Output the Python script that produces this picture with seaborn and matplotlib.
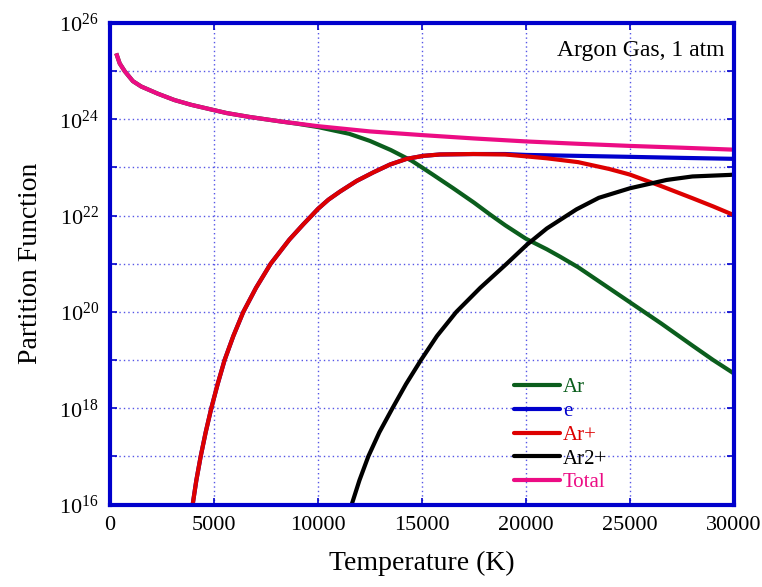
import numpy as np
import pandas as pd
import matplotlib
matplotlib.use("Agg")
import matplotlib.pyplot as plt
from matplotlib.ticker import FixedLocator, FuncFormatter
import seaborn as sns

# ---- data (T in K, partition function values) ----
T_tot = [300, 465, 705, 1100, 1500, 2300, 3100, 3900, 5000, 5600, 6700, 8300, 10000,
         12500, 15000, 17500, 20000, 22500, 25000, 27500, 30000]
Q_tot = [2.34e25, 1.45e25, 1.0e25, 6.2e24, 4.8e24, 3.4e24, 2.51e24, 2.0e24, 1.55e24,
         1.35e24, 1.12e24, 8.9e23, 7.2e23, 5.6e23, 4.7e23, 4.0e23, 3.47e23, 3.1e23,
         2.8e23, 2.57e23, 2.34e23]

T_ar = [300, 465, 705, 1100, 1500, 2300, 3100, 3900, 5000, 5600, 6700, 8300, 9000,
        10000, 11500, 12500, 13500, 14500, 15000, 15500, 16500, 17500, 18250, 19000,
        20000, 21000, 21630, 22500, 24000, 25000, 26500, 28000, 29000, 30000]
Q_ar = [2.34e25, 1.45e25, 1.0e25, 6.2e24, 4.8e24, 3.4e24, 2.51e24, 2.0e24, 1.55e24,
        1.35e24, 1.12e24, 8.9e23, 8.1e23, 6.9e23, 5.0e23, 3.55e23, 2.3e23, 1.38e23,
        1.0e23, 7.2e22, 3.7e22, 1.86e22, 1.07e22, 6.3e21, 3.3e21, 2.0e21, 1.41e21,
        8.5e20, 3.1e20, 1.58e20, 5.75e19, 2.0e19, 1.0e19, 5.25e18]

T_ion = [3900, 3975, 4150, 4360, 4600, 4870, 5175, 5510, 5930, 6410, 7020, 7725, 8620,
         9295, 9695, 10000, 10500, 11060, 11860, 12660, 13460, 14265, 15065, 15865,
         17465, 19000, 20000, 21000, 22500, 24000, 25000, 26500, 28000, 29000, 30000]
Q_ion = [6.3e15, 1.0e16, 3.16e16, 1.0e17, 3.16e17, 1.0e18, 3.16e18, 1.0e19, 3.16e19,
         1.0e20, 3.16e20, 1.0e21, 3.16e21, 6.6e21, 1.0e22, 1.38e22, 2.14e22, 3.16e22,
         5.25e22, 7.9e22, 1.15e23, 1.51e23, 1.74e23, 1.86e23, 1.9e23, 1.86e23,
         1.70e23, 1.55e23, 1.29e23, 9.3e22, 7.1e22, 4.1e22, 2.3e22, 1.55e22, 1.02e22]

T_e = [3900, 3975, 4150, 4360, 4600, 4870, 5175, 5510, 5930, 6410, 7020, 7725, 8620,
       9295, 9695, 10000, 10500, 11060, 11860, 12660, 13460, 14265, 15065, 15865,
       17465, 19000, 20000, 22500, 25000, 27500, 30000]
Q_e = [6.3e15, 1.0e16, 3.16e16, 1.0e17, 3.16e17, 1.0e18, 3.16e18, 1.0e19, 3.16e19,
       1.0e20, 3.16e20, 1.0e21, 3.16e21, 6.6e21, 1.0e22, 1.38e22, 2.14e22, 3.16e22,
       5.25e22, 7.9e22, 1.15e23, 1.51e23, 1.74e23, 1.86e23, 1.9e23, 1.9e23, 1.82e23,
       1.74e23, 1.66e23, 1.58e23, 1.51e23]

T_ion2 = [11500, 11620, 11990, 12420, 12950, 13580, 14230, 14950, 15720, 16650, 17800,
          19070, 20050, 21000, 22430, 23500, 25000, 26760, 28000, 29800, 30000]
Q_ion2 = [6.3e15, 1.0e16, 3.16e16, 1.0e17, 3.16e17, 1.0e18, 3.16e18, 1.0e19, 3.16e19,
          1.0e20, 3.16e20, 1.0e21, 2.5e21, 5.4e21, 1.35e22, 2.34e22, 3.7e22, 5.5e22,
          6.5e22, 7.0e22, 7.1e22]

series_names = ["Ar", "e", "Ar+", "Ar2+", "Total"]
series_colors = ["#0b5e1d", "#0000cc", "#dd0000", "#000000", "#ec0c84"]

x_ticks = [0, 5000, 10000, 15000, 20000, 25000, 30000]
y_exps = list(range(16, 27))

frames = []
for name, T, Q in zip(series_names,
                      [T_ar, T_e, T_ion, T_ion2, T_tot],
                      [Q_ar, Q_e, Q_ion, Q_ion2, Q_tot]):
    frames.append(pd.DataFrame({"T": T, "Q": Q, "species": name}))
df = pd.concat(frames, ignore_index=True)

# ---- styling ----
sns.set_theme(style="white")
plt.rcParams["font.family"] = ["Liberation Serif", "DejaVu Serif"]
plt.rcParams["mathtext.fontset"] = "custom"
plt.rcParams["mathtext.rm"] = "Liberation Serif"
plt.rcParams["mathtext.it"] = "Liberation Serif:italic"

frame_blue = "#0000cc"

fig = plt.figure(figsize=(7.62, 5.87), dpi=100)
ax = fig.add_axes([110 / 762, 1 - 504.5 / 587, 624 / 762, 481.5 / 587])

sns.lineplot(data=df, x="T", y="Q", hue="species", hue_order=series_names,
             palette=series_colors, sort=False, estimator=None, linewidth=3.0,
             ax=ax, legend=False)
for ln in ax.get_lines():
    ln.set_solid_joinstyle("round")
    ln.set_solid_capstyle("butt")

ax.set_yscale("log")
ax.set_xlim(0, 30000)
ax.set_ylim(1e16, 1e26)

ax.xaxis.set_major_locator(FixedLocator(x_ticks))
ax.set_xticklabels([str(v) for v in x_ticks])
ax.yaxis.set_major_locator(FixedLocator([10.0 ** k for k in y_exps]))
ax.yaxis.set_minor_locator(FixedLocator([]))
ax.yaxis.set_major_formatter(FuncFormatter(
    lambda v, p: (r"$\mathregular{10^{%d}}$" % round(np.log10(v))) if round(np.log10(v)) % 2 == 0 else ""))

ax.grid(True, which="major", color="#2a2ae0", linestyle=(0, (1, 2.2)), linewidth=1.0, alpha=0.8)
for s in ax.spines.values():
    s.set_color(frame_blue)
    s.set_linewidth(3.0)
    s.set_visible(True)
    s.set_zorder(5)

ax.tick_params(axis="both", which="major", direction="in", length=5, width=1.2,
               color=frame_blue, labelsize=16, labelcolor="black",
               top=True, right=True, bottom=True, left=True, pad=8)

ax.set_xlabel("Temperature (K)", fontsize=20, labelpad=12, color="black")
ax.set_ylabel("Partition Function", fontsize=20, labelpad=12, color="black")

ax.text(0.985, 0.965, "Argon Gas, 1 atm", transform=ax.transAxes, ha="right", va="top",
        fontsize=17, color="black")

handles = [plt.Line2D([], [], color=c, linewidth=3.0) for c in series_colors]
leg = ax.legend(handles, series_names, loc="lower left", bbox_to_anchor=(0.647, 0.025),
                frameon=False, fontsize=15, handlelength=2.2, handletextpad=0.15,
                labelspacing=0.2, borderpad=0, borderaxespad=0, labelcolor="linecolor")

fig.savefig("out.png", dpi=100)
